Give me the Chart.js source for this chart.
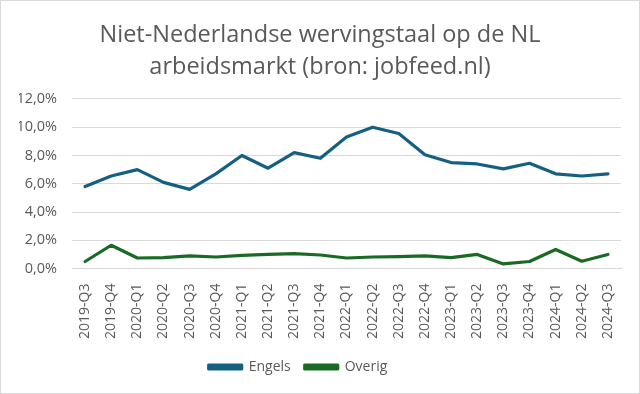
<!DOCTYPE html>
<html>
<head>
<meta charset="utf-8">
<script src="https://cdn.jsdelivr.net/npm/chart.js@4/dist/chart.umd.min.js"></script>
<style>
html,body{margin:0;padding:0;background:#fff;}
#wrap{position:absolute;left:0;top:0;width:638px;height:392px;border:1px solid #d9d9d9;background:#fff;}
canvas{display:block;}
</style>
</head>
<body>
<div id="wrap"><canvas id="c" width="638" height="392"></canvas></div>
<script>
const categories = ["2019-Q3","2019-Q4","2020-Q1","2020-Q2","2020-Q3","2020-Q4","2021-Q1","2021-Q2","2021-Q3","2021-Q4","2022-Q1","2022-Q2","2022-Q3","2022-Q4","2023-Q1","2023-Q2","2023-Q3","2023-Q4","2024-Q1","2024-Q2","2024-Q3"];
const engels = [5.8,6.55,7.0,6.1,5.6,6.7,8.0,7.1,8.2,7.8,9.3,10.0,9.55,8.05,7.5,7.4,7.05,7.45,6.7,6.55,6.7];
const overig = [0.5,1.65,0.75,0.78,0.9,0.82,0.94,1.0,1.06,0.96,0.75,0.82,0.85,0.9,0.78,1.0,0.33,0.5,1.35,0.52,1.0];
const titleLines = ["Niet-Nederlandse wervingstaal op de NL","arbeidsmarkt (bron: jobfeed.nl)"];

const grey = "#595959";
const legendShift = {
  id: "legendShift",
  afterLayout(chart) {
    const lg = chart.legend;
    lg.left -= 22; lg.right -= 22;
  }
};
new Chart(document.getElementById("c"), {
  type: "line",
  data: {
    labels: categories,
    datasets: [
      {label: "Engels", data: engels, borderColor: "#156082", backgroundColor: "#156082", borderWidth: 3.2, pointRadius: 0, tension: 0, borderJoinStyle: "round", borderCapStyle: "round"},
      {label: "Overig", data: overig, borderColor: "#196B24", backgroundColor: "#196B24", borderWidth: 3.2, pointRadius: 0, tension: 0, borderJoinStyle: "round", borderCapStyle: "round"}
    ]
  },
  plugins: [legendShift],
  options: {
    responsive: false,
    animation: false,
    layout: {padding: {left: 18, right: 18, top: 18, bottom: 9}},
    plugins: {
      title: {display: true, text: titleLines, color: grey, font: {family: "Open Sans", size: 23.5, weight: "normal", lineHeight: 1.36}, padding: {top: 0, bottom: 16}},
      legend: {position: "bottom", labels: {color: grey, font: {family: "Open Sans", size: 14}, boxWidth: 33, boxHeight: 4, padding: 14}},
      tooltip: {enabled: false}
    },
    scales: {
      x: {
        offset: true,
        grid: {display: false},
        border: {display: true, color: "#d9d9d9", width: 1},
        ticks: {color: grey, font: {family: "Open Sans", size: 14}, minRotation: 90, maxRotation: 90, padding: 7}
      },
      y: {
        min: 0, max: 12,
        afterFit(scale) { scale.width = 53; },
        grid: {color: "#d9d9d9", lineWidth: 1, drawTicks: false},
        border: {display: false},
        ticks: {stepSize: 2, color: grey, font: {family: "Open Sans", size: 14.5}, padding: 15,
          callback: v => v.toFixed(1).replace(".", ",") + "%"}
      }
    }
  }
});
</script>
</body>
</html>
